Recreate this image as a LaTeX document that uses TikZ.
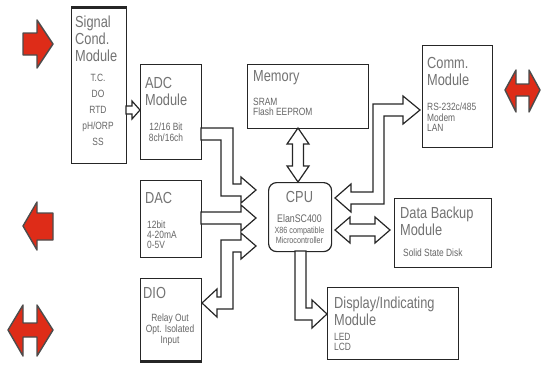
\documentclass[tikz,border=0pt]{standalone}
\usepackage{fontspec}
\setmainfont{Liberation Sans}[FakeStretch=0.8]
\definecolor{redfill}{RGB}{222,44,24}
\begin{document}
\begin{tikzpicture}[x=1pt,y=-1pt]
\useasboundingbox (0,0) rectangle (546,365);
\tikzset{
 box/.style={draw=black!85, line width=1.2pt, fill=white, inner sep=0pt, anchor=north west},
 hd/.style={text=black!55, font=\fontsize{16}{17}\selectfont, align=left, inner sep=0pt, anchor=north west},
 sm/.style={text=black!60, font=\fontsize{10.5}{11}\selectfont, inner sep=0pt},
 hollow/.style={draw=black!85, line width=1.2pt, fill=white, line join=miter},
 redarrow/.style={draw=black!70, line width=1.4pt, fill=redfill, line join=round},
}
% boxes
\node[box, minimum width=55pt, minimum height=156pt] (sig) at (71,7) {};
\node[box, minimum width=61pt, minimum height=95pt] (adc) at (140,64) {};
\node[box, minimum width=61pt, minimum height=77pt] (dac) at (140,180) {};
\node[box, minimum width=61pt, minimum height=82pt] (dio) at (140,278) {};
\node[box, minimum width=121pt, minimum height=64pt] (mem) at (247,64) {};
\node[box, rounded corners=8pt, minimum width=63pt, minimum height=69pt] (cpu) at (268,182) {};
\node[box, minimum width=70pt, minimum height=102pt] (comm) at (422,45) {};
\node[box, minimum width=97pt, minimum height=69pt] (bak) at (394,198) {};
\node[box, minimum width=131pt, minimum height=72pt] (disp) at (327,287) {};
\draw[line width=3pt, black!85] (sig.north west) -- (sig.north east);
\draw[line width=3pt, black!85] (dio.south west) -- (dio.south east);

% texts
\node[hd] (sigt) at (75,16) {Signal\\Cond.\\Module};
\node[sm, align=center, anchor=north, font=\fontsize{10.5}{16}\selectfont] (sigs) at (98,74) {T.C.\\DO\\RTD\\pH/ORP\\SS};
\node[hd] (adct) at (145,77) {ADC\\Module};
\node[sm, align=center, anchor=north] (adcs) at (166,123) {12/16 Bit\\8ch/16ch};
\node[hd] (dact) at (145,192) {DAC};
\node[sm, align=left, anchor=north west, font=\fontsize{10.5}{10}\selectfont] (dacs) at (147,221) {12bit\\4-20mA\\0-5V};
\node[hd] (diot) at (143,287) {DIO};
\node[sm, align=center, anchor=north] (dios) at (170,314) {Relay Out\\Opt. Isolated\\Input};
\node[hd] (memt) at (253,70) {Memory};
\node[sm, align=left, anchor=north west, font=\fontsize{10.5}{10}\selectfont] (mems) at (253,98) {SRAM\\Flash EEPROM};
\node[hd, anchor=north] (cput) at (299.5,191) {CPU};
\node[sm, anchor=north, font=\fontsize{11}{11}\selectfont] (cpus) at (299.5,214) {ElanSC400};
\node[sm, anchor=north, align=center, font=\fontsize{9}{10}\selectfont] (cpud) at (299.5,227) {X86 compatible\\Microcontroller};
\node[hd] (commt) at (427,57) {Comm.\\Module};
\node[sm, align=left, anchor=north west, font=\fontsize{10.5}{10.5}\selectfont] (comms) at (427,103) {RS-232c/485\\Modem\\LAN};
\node[hd] (bakt) at (400,207) {Data Backup\\Module};
\node[sm, anchor=north west] (baks) at (403,249) {Solid State Disk};
\node[hd] (dispt) at (334,297) {Display/Indicating\\Module};
\node[sm, align=left, anchor=north west, font=\fontsize{10.5}{10}\selectfont] (disps) at (334,333) {LED\\LCD};

% hollow arrows
\draw[hollow] (126,106) -- (132,106) -- (132,101) -- (140,110) -- (132,119) -- (132,114) -- (126,114) -- cycle;
\draw[hollow] (201,128) -- (233,128) -- (233,184) -- (241,184) -- (241,177) -- (256,190) -- (241,203) -- (241,196) -- (221,196) -- (221,140) -- (201,140) -- cycle;
\draw[hollow] (201,212) -- (241,212) -- (241,205) -- (256,218) -- (241,231) -- (241,224) -- (201,224) -- cycle;
\draw[hollow] (202,303) -- (217,289) -- (217,297) -- (221,297) -- (221,240) -- (241,240) -- (241,233) -- (256,246) -- (241,259) -- (241,252) -- (233,252) -- (233,309) -- (217,309) -- (217,317) -- cycle;
\draw[hollow] (298,128) -- (309,144) -- (303.5,144) -- (303.5,166) -- (309,166) -- (298,182) -- (287,166) -- (292.5,166) -- (292.5,144) -- (287,144) -- cycle;
\draw[hollow] (295,251) -- (306,251) -- (306,308) -- (312,308) -- (312,300) -- (327,314) -- (312,328) -- (312,320) -- (295,320) -- cycle;
\draw[hollow] (335,198) -- (351,184) -- (351,192) -- (373,192) -- (373,104) -- (403,104) -- (403,96) -- (420,110) -- (403,124) -- (403,116) -- (384,116) -- (384,204) -- (351,204) -- (351,212) -- cycle;
\draw[hollow] (335,230) -- (350,217) -- (350,224) -- (375,224) -- (375,217) -- (390,230) -- (375,243) -- (375,236) -- (350,236) -- (350,243) -- cycle;

% red arrows
\draw[redarrow] (23,33) -- (37,33) -- (37,20) -- (53,44) -- (37,68) -- (37,55) -- (23,55) -- cycle;
\draw[redarrow] (23,226) -- (37,202) -- (37,213) -- (53,213) -- (53,240) -- (37,240) -- (37,250) -- cycle;
\draw[redarrow] (8,330) -- (23,305) -- (23,323) -- (37,323) -- (37,305) -- (53,330) -- (37,356) -- (37,337) -- (23,337) -- (23,356) -- cycle;
\draw[redarrow] (505,90) -- (516,70) -- (516,84) -- (529,84) -- (529,70) -- (540,90) -- (529,112) -- (529,96) -- (516,96) -- (516,112) -- cycle;
\end{tikzpicture}
\end{document}
